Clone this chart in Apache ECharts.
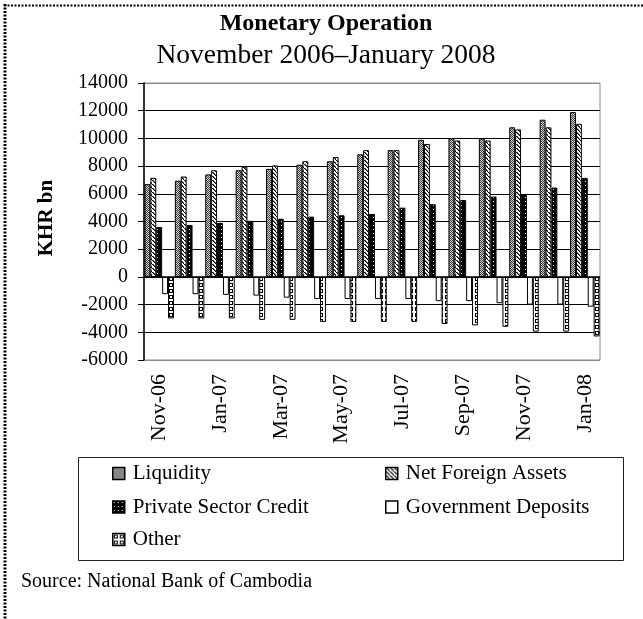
<!DOCTYPE html>
<html>
<head>
<meta charset="utf-8">
<script src="https://cdn.jsdelivr.net/npm/echarts@6/dist/echarts.min.js"></script>
<style>html,body{margin:0;padding:0;background:#fff;}#c{width:643px;height:619px;}</style>
</head>
<body>
<div id="c"></div>
<script>
const categories = ['Nov-06','Dec-06','Jan-07','Feb-07','Mar-07','Apr-07','May-07','Jun-07','Jul-07','Aug-07','Sep-07','Oct-07','Nov-07','Dec-07','Jan-08'];
const liquidity = [6700, 6950, 7400, 7700, 7800, 8100, 8350, 8850, 9150, 9900, 10000, 10000, 10800, 11350, 11900];
const netForeignAssets = [7150, 7250, 7700, 7950, 8050, 8350, 8650, 9150, 9150, 9600, 9850, 9850, 10650, 10800, 11050];
const privateSectorCredit = [3600, 3750, 3900, 4050, 4200, 4350, 4450, 4550, 5000, 5250, 5550, 5800, 5950, 6450, 7150];
const governmentDeposits = [-1250, -1250, -1300, -1350, -1500, -1600, -1600, -1600, -1600, -1750, -1750, -1900, -2000, -2000, -2150];
const other = [-3000, -3000, -3000, -3100, -3100, -3250, -3250, -3250, -3250, -3400, -3500, -3600, -3950, -3950, -4300];
const yTicks = [-6000, -4000, -2000, 0, 2000, 4000, 6000, 8000, 10000, 12000, 14000];

const FONT = '"Liberation Serif", "DejaVu Serif", serif';

function pat(w, h, draw) {
  const c = document.createElement('canvas');
  c.width = w; c.height = h;
  const g = c.getContext('2d');
  draw(g);
  return { image: c, repeat: 'repeat' };
}
const pLiq = pat(2, 2, g => { g.fillStyle = '#cfcfcf'; g.fillRect(0,0,2,2); g.fillStyle = '#404040'; g.fillRect(0,0,1,1); g.fillRect(1,1,1,1); });
const pNfa = pat(4, 4, g => { g.fillStyle = '#fff'; g.fillRect(0,0,4,4); g.fillStyle = '#000'; for (let i=0;i<4;i++) g.fillRect(i,i,1,1); g.fillStyle='#666'; for (let i=0;i<3;i++) g.fillRect(i+1,i,1,1); });
const pPsc = pat(4, 4, g => { g.fillStyle = '#000'; g.fillRect(0,0,4,4); g.fillStyle = '#fff'; g.fillRect(1,1,1,1); });
const pGd = '#ffffff';
const pOth = pat(6, 6, g => {
  g.fillStyle = '#fff'; g.fillRect(0,0,6,6);
  g.fillStyle = '#000';
  g.fillRect(1,1,4,1); g.fillRect(1,4,4,1); g.fillRect(1,1,1,4); g.fillRect(4,1,1,4);
});

const names = ['Liquidity','Net Foreign Assets','Private Sector Credit','Government Deposits','Other'];
const datasets = [liquidity, netForeignAssets, privateSectorCredit, governmentDeposits, other];
const fills = [pLiq, pNfa, pPsc, pGd, pOth];

const series = names.map((n, i) => ({
  name: n,
  type: 'bar',
  data: datasets[i],
  barGap: '0%',
  barCategoryGap: '3%',
  itemStyle: { color: fills[i], borderColor: '#000', borderWidth: 1 },
  animation: false,
  markLine: i === 0 ? {
    silent: true, symbol: 'none', label: { show: false },
    lineStyle: { color: '#000', width: 1.5, type: 'solid' },
    data: [{ yAxis: 0 }]
  } : undefined
}));

const legendPos = [
  { left: 112, top: 461.5 }, { left: 385, top: 461.5 },
  { left: 112, top: 495 }, { left: 385, top: 495 },
  { left: 112, top: 527.5 }
];
const legends = names.map((n, i) => ({
  data: [n], left: legendPos[i].left, top: legendPos[i].top, padding: 0,
  icon: 'rect', itemWidth: 12, itemHeight: 12, itemGap: 0,
  itemStyle: { borderColor: '#000', borderWidth: 1.5 },
  textStyle: { fontFamily: FONT, fontSize: 21, color: '#000', lineHeight: 24, padding: [0,0,0,3] },
  selectedMode: false
}));

const splitColors = yTicks.map((v, i) => (i === 0 || i === yTicks.length - 1) ? '#8c8c8c' : '#000');

const chart = echarts.init(document.getElementById('c'), null, { renderer: 'canvas' });
chart.setOption({
  backgroundColor: '#fff',
  animation: false,
  title: [
    { text: 'Monetary Operation', left: 326, textAlign: 'center', top: 11, padding: 0, textStyle: { fontFamily: FONT, fontSize: 24, fontWeight: 'bold', color: '#000', lineHeight: 26 } },
    { text: 'November 2006–January 2008', left: 326, textAlign: 'center', top: 42, padding: 0, textStyle: { fontFamily: FONT, fontSize: 27.5, fontWeight: 'normal', color: '#000', lineHeight: 28 } }
  ],
  legend: legends,
  grid: { left: 144, right: 43, top: 83, bottom: 259, show: true, borderColor: '#8c8c8c', borderWidth: 1, containLabel: false },
  xAxis: {
    type: 'category', data: categories,
    axisLine: { show: false, onZero: false },
    axisTick: { show: false },
    axisLabel: { interval: 1, rotate: 90, margin: 14, fontFamily: FONT, fontSize: 22, color: '#000' },
    splitLine: { show: false }
  },
  yAxis: {
    type: 'value', min: -6000, max: 14000, interval: 2000,
    axisLine: { show: true, lineStyle: { color: '#000', width: 1.5 } },
    axisTick: { show: true, inside: false, length: 6, lineStyle: { color: '#000' } },
    axisLabel: { margin: 16, fontFamily: FONT, fontSize: 20, color: '#000', formatter: v => String(v) },
    splitLine: { show: true, lineStyle: { color: splitColors, width: 1 } }
  },
  series: series,
  graphic: [
    { type: 'rect', shape: { x: 78.5, y: 457.5, width: 545, height: 103 }, style: { fill: 'none', stroke: '#222', lineWidth: 1 }, z: -1 },
    { type: 'line', shape: { x1: 5, y1: 4, x2: 5, y2: 619 }, style: { stroke: '#000', lineWidth: 3, lineDash: [2, 1.5] } },
    { type: 'line', shape: { x1: 4, y1: 5.5, x2: 643, y2: 5.5 }, style: { stroke: '#000', lineWidth: 2, lineDash: [2, 1.5] } },
    { type: 'text', x: 21, y: -16, style: { text: 'Source: National Bank of Cambodia', font: '20px ' + FONT, fill: '#000' } },
    { type: 'text', x: 47, y: 218, rotation: Math.PI / 2, style: { text: 'KHR bn', font: 'bold 21px ' + FONT, fill: '#000', align: 'center', verticalAlign: 'middle' } },
    { type: 'text', x: 21, y: 571.5, style: { text: 'Source: National Bank of Cambodia', font: '20px ' + FONT, fill: '#000' } }
  ]
});
</script>
</body>
</html>
